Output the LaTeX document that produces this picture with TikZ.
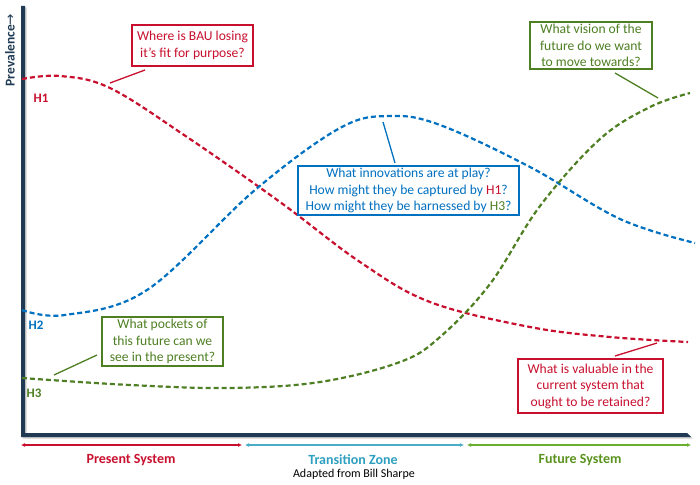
\documentclass[tikz,border=0pt]{standalone}
\usepackage{fontspec}
\setmainfont{Carlito}
\newfontfamily\dvs{DejaVu Sans}
\usetikzlibrary{arrows.meta}
\definecolor{hred}{HTML}{C8102E}
\definecolor{hblue}{HTML}{0070C0}
\definecolor{hgreen}{HTML}{4E7F22}
\definecolor{axiscol}{HTML}{1F3A52}
\definecolor{tcyan}{HTML}{4BACC6}
\definecolor{tcyantext}{HTML}{2E9FBF}
\definecolor{tgreen}{HTML}{6BAF2E}
\definecolor{tgreentext}{HTML}{5A921E}
\tikzset{
  curve/.style={line width=2.2pt, dash pattern=on 5pt off 3pt, smooth, tension=0.6},
  qbox/.style={draw, line width=1.4pt, fill=white, align=center, font=\fontsize{13.6}{16.5}\selectfont, inner sep=2pt},
  leader/.style={line width=1.3pt},
  hlabel/.style={font=\fontsize{13}{15}\selectfont\bfseries},
  tline/.style={line width=1.3pt, {Latex[length=4pt,width=4pt]}-{Latex[length=4pt,width=4pt]}},
  tlabel/.style={font=\fontsize{14}{16}\selectfont\bfseries}
}
\begin{document}
\begin{tikzpicture}[x=1pt,y=-1pt]
\useasboundingbox (0,0) rectangle (700,484);
% axes with shadow
\fill[black!18] (22.5,7.5) -- (26.5,7.5) -- (26.5,434.5) -- (688.5,434.5) -- (692.5,438.5) -- (22.5,438.5) -- cycle;
\fill[axiscol] (21,6) -- (25,6) -- (25,433) -- (687,433) -- (691,437) -- (21,437) -- cycle;
\node[rotate=90, font=\fontsize{13.5}{15}\selectfont\bfseries, text=axiscol, anchor=center] (prev) at (10,50) {Prevalence{\dvs\mdseries →}};

% curves
\draw[curve, hred] plot coordinates {(22,79) (60,76) (110,88) (187,137) (280,202) (360,262) (430,302) (530,327) (610,337) (688,342)};
\draw[curve, hblue] plot coordinates {(22,310) (65,315) (147,290) (255,190) (340,128) (390,116) (440,125) (530,167) (620,219) (695,243)};
\draw[curve, hgreen] plot coordinates {(22,378) (130,385) (230,388) (320,382) (400,362) (440,337) (490,284) (540,206) (600,139) (650,107) (690,93)};

% curve labels
\node[hlabel, text=hred] (h1) at (41,98) {H1};
\node[hlabel, text=hblue] (h2) at (36,325) {H2};
\node[hlabel, text=hgreen] (h3) at (34,393) {H3};

% boxes
\node[qbox, draw=hred, text=hred, minimum width=121pt, minimum height=41pt] (q1) at (192.5,45.5) {Where is BAU losing\\it’s fit for purpose?};
\node[qbox, draw=hgreen, text=hgreen, minimum width=122pt, minimum height=47pt] (q2) at (591,45.5) {What vision of the\\future do we want\\to move towards?};
\node[qbox, draw=hblue, text=hblue, minimum width=221pt, minimum height=47pt] (q3) at (408.5,190.5) {What innovations are at play?\\How might they be captured by \textcolor{hred}{H1}?\\How might they be harnessed by \textcolor{hgreen}{H3}?};
\node[qbox, draw=hgreen, text=hgreen, minimum width=121pt, minimum height=47pt] (q4) at (162.5,341.5) {What pockets of\\this future can we\\see in the present?};
\node[qbox, draw=hred, text=hred, minimum width=145pt, minimum height=54pt] (q5) at (590.5,386) {What is valuable in the\\current system that\\ought to be retained?};

% leaders
\coordinate (l1a) at (110,83); \coordinate (l1b) at (145,70);
\coordinate (l2a) at (615,73); \coordinate (l2b) at (658,98);
\coordinate (l3a) at (383,122); \coordinate (l3b) at (395,163);
\coordinate (l4a) at (54,375); \coordinate (l4b) at (97,355);
\coordinate (l5a) at (615,356); \coordinate (l5b) at (657,343);
\draw[leader, hred] (l1a) -- (l1b);
\draw[leader, hgreen] (l2a) -- (l2b);
\draw[leader, hblue] (l3a) -- (l3b);
\draw[leader, hgreen] (l4a) -- (l4b);
\draw[leader, hred] (l5a) -- (l5b);

% timeline
\coordinate (t0) at (21,445); \coordinate (t1) at (242,445);
\coordinate (t2) at (245,445); \coordinate (t3) at (464,445);
\coordinate (t4) at (467,445); \coordinate (t5) at (691,445);
\draw[tline, hred] (t0) -- (t1);
\draw[tline, tcyan] (t2) -- (t3);
\draw[tline, tgreen] (t4) -- (t5);
\node[tlabel, text=hred] (ps) at (131,460) {Present System};
\node[tlabel, text=tcyantext] (tz) at (353,460) {Transition Zone};
\node[tlabel, text=tgreentext] (fs) at (580,460) {Future System};
\node[font=\fontsize{12}{13}\selectfont] (ad) at (354,474.5) {Adapted from Bill Sharpe};
\end{tikzpicture}
\end{document}
